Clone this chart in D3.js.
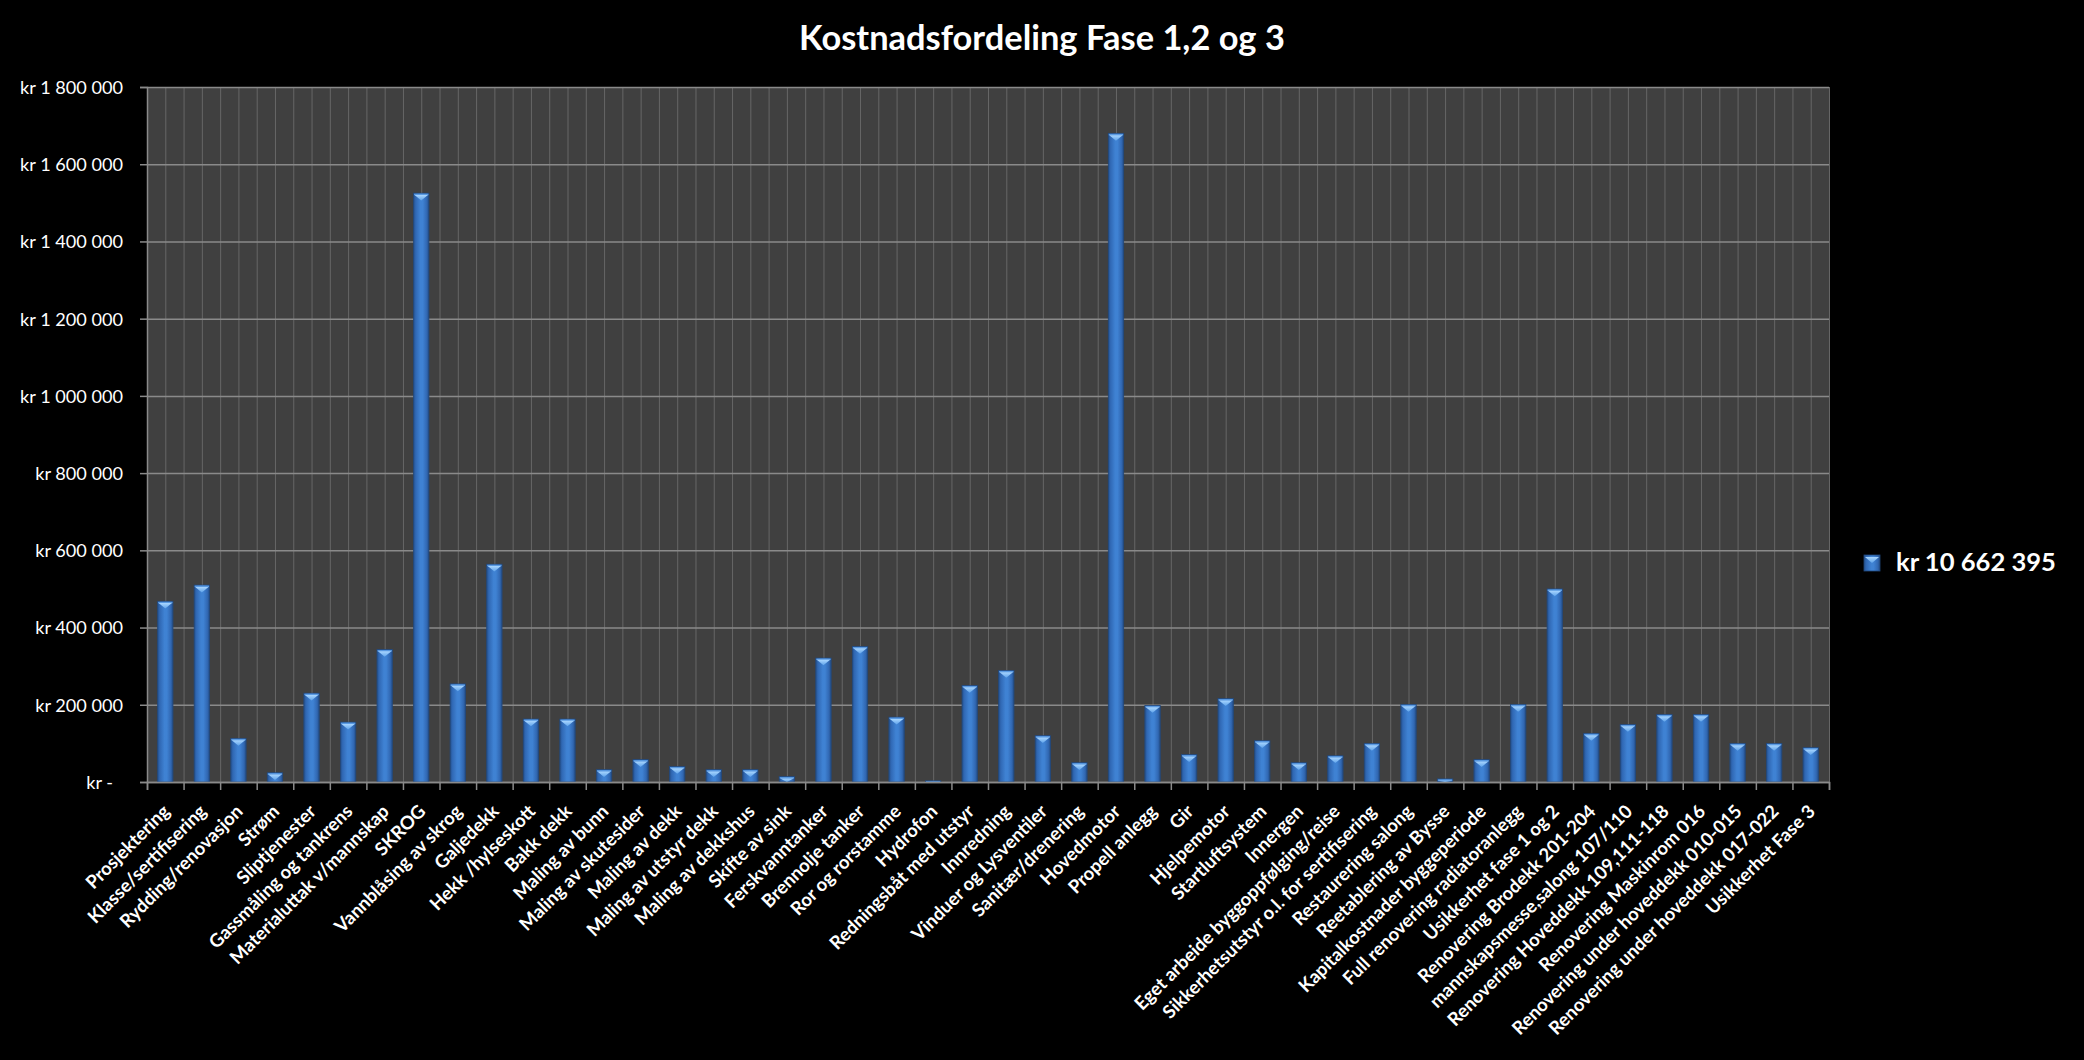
<!DOCTYPE html>
<html><head><meta charset="utf-8">
<script src="https://cdn.jsdelivr.net/npm/d3@7"></script>
<style>html,body{margin:0;padding:0;background:#000;} svg{display:block}</style>
</head><body>
<svg id="c" width="2084" height="1060"></svg>
<script>
const chartTitle = "Kostnadsfordeling Fase 1,2 og 3";
const categories = [
  "Prosjektering","Klasse/sertifisering","Rydding/renovasjon","Strøm","Sliptjenester",
  "Gassmåling og tankrens","Materialuttak v/mannskap","SKROG","Vannblåsing av skrog","Galjedekk",
  "Hekk /hylseskott","Bakk dekk","Maling av bunn","Maling av skutesider","Maling av dekk",
  "Maling av utstyr dekk","Maling av dekkshus","Skifte av sink","Ferskvanntanker","Brennolje tanker",
  "Ror og rorstamme","Hydrofon","Redningsbåt med utstyr","Innredning","Vinduer og Lysventiler",
  "Sanitær/drenering","Hovedmotor","Propell anlegg","Gir","Hjelpemotor",
  "Startluftsystem","Innergen","Eget arbeide byggoppfølging/reise","Sikkerhetsutstyr o.l. for sertifisering","Restaurering salong",
  "Reetablering av Bysse","Kapitalkostnader byggeperiode","Full renovering radiatoranlegg","Usikkerhet fase 1 og 2","Renovering Brodekk 201-204",
  "mannskapsmesse,salong 107/110","Renovering Hoveddekk 109,111-118","Renovering Maskinrom 016","Renovering under hoveddekk 010-015","Renovering under hoveddekk 017-022",
  "Usikkerhet Fase 3"
];
const values = [
  468000, 510000, 113000, 24000, 230000,
  155000, 343000, 1525000, 254000, 564000,
  163000, 163000, 32000, 58000, 40000,
  32000, 32000, 14000, 321000, 351000,
  168000, 3000, 250000, 289000, 120000,
  50000, 1680000, 198000, 71000, 216000,
  107000, 50000, 68000, 100000, 201000,
  8000, 58000, 201000, 500000, 126000,
  149000, 175000, 175000, 100000, 100000,
  89000
];
const yTicks = [0, 200000, 400000, 600000, 800000, 1000000, 1200000, 1400000, 1600000, 1800000];
const legendLabel = "kr 10 662 395";

const svg = d3.select("#c");
const W = 2084, H = 1060;
svg.append("rect").attr("width", W).attr("height", H).attr("fill", "#000");

const plot = {left: 147, right: 1829, top: 87, bottom: 782};
const FONT = "Lato, 'Open Sans', sans-serif";

const x = d3.scaleBand().domain(categories).range([plot.left, plot.right]).padding(0);
const xi = d3.scaleLinear().domain([0, categories.length]).range([plot.left, plot.right]);
const y = d3.scaleLinear().domain([0, 1800000]).range([plot.bottom, plot.top]);

// defs
const defs = svg.append("defs");
const g1 = defs.append("linearGradient").attr("id", "barGrad").attr("x1", "0").attr("x2", "1").attr("y1", "0").attr("y2", "0");
[["0%", "#24508c"], ["14%", "#3068b4"], ["45%", "#3f82d3"], ["60%", "#3f82d3"], ["86%", "#3168b3"], ["100%", "#234d86"]]
  .forEach(([o, c]) => g1.append("stop").attr("offset", o).attr("stop-color", c));
const g2 = defs.append("linearGradient").attr("id", "capGrad").attr("x1", "0").attr("x2", "0").attr("y1", "0").attr("y2", "1");
[["0%", "#a9d6ff"], ["100%", "#5fa3ea"]].forEach(([o, c]) => g2.append("stop").attr("offset", o).attr("stop-color", c));

// plot background
svg.append("rect").attr("x", plot.left).attr("y", plot.top)
  .attr("width", plot.right - plot.left).attr("height", plot.bottom - plot.top)
  .attr("fill", "#404040");

// vertical gridlines (every half category)
const halfTicks = d3.range(0, categories.length * 2 + 1).map(d => d / 2);
svg.append("g").attr("transform", `translate(0,${plot.top})`)
  .call(d3.axisTop(xi).tickValues(halfTicks).tickSize(-(plot.bottom - plot.top)).tickFormat(""))
  .call(g => g.select(".domain").remove())
  .call(g => g.selectAll("line").attr("stroke", "#666").attr("stroke-width", 1));

// horizontal gridlines
svg.append("g").attr("transform", `translate(${plot.left},0)`)
  .call(d3.axisLeft(y).tickValues(yTicks).tickSize(-(plot.right - plot.left)).tickFormat(""))
  .call(g => g.select(".domain").remove())
  .call(g => g.selectAll("line").attr("stroke", "#8a8a8a").attr("stroke-width", 1.5));

// bars
const bw = x.bandwidth() * 0.42;
const bars = svg.append("g").selectAll("g").data(categories.map((c, i) => ({c, v: values[i]}))).join("g");
bars.append("rect")
  .attr("x", d => x(d.c) + (x.bandwidth() - bw) / 2)
  .attr("y", d => y(d.v))
  .attr("width", bw)
  .attr("height", d => plot.bottom - y(d.v))
  .attr("fill", "url(#barGrad)")
  .attr("stroke", "#22497e").attr("stroke-width", 0.8);
bars.append("rect")
  .attr("x", d => x(d.c) + (x.bandwidth() - bw) / 2 + 0.5)
  .attr("y", d => y(d.v) + 0.5)
  .attr("width", bw - 1)
  .attr("height", d => Math.min(1.5, plot.bottom - y(d.v)))
  .attr("fill", "#5b9be3");
bars.append("path")
  .attr("d", d => {
    const x0 = x(d.c) + (x.bandwidth() - bw) / 2 + 1;
    const x1 = x0 + bw - 2;
    const t = y(d.v) + 1.8;
    const h = Math.min(5.5, Math.max(0, plot.bottom - t));
    return `M${x0},${t}L${x1},${t}L${(x0 + x1) / 2},${t + h}Z`;
  })
  .attr("fill", "url(#capGrad)");

// y axis
const fmt = d => d === 0 ? "kr -" : "kr " + d3.format(",")(d).replace(/,/g, " ");
const yAxis = svg.append("g").attr("transform", `translate(${plot.left},0)`)
  .call(d3.axisLeft(y).tickValues(yTicks).tickSize(7).tickPadding(0).tickFormat(fmt));
yAxis.select(".domain").attr("stroke", "#8a8a8a").attr("stroke-width", 1.5);
yAxis.selectAll(".tick line").attr("stroke", "#8a8a8a").attr("stroke-width", 1.5);
yAxis.selectAll(".tick text")
  .attr("fill", "#fff").attr("font-family", FONT).attr("font-size", 20)
  .attr("x", d => d === 0 ? -34 : -24).attr("dy", "0.35em");
// fit y label size to reference width
{
  const t = yAxis.selectAll(".tick text").filter(d => d === 1800000);
  const w = t.node().getComputedTextLength();
  const fs = 20 * 103 / w;
  yAxis.selectAll(".tick text").attr("font-size", fs);
}

// x axis (ticks at category boundaries)
const xAxis = svg.append("g").attr("transform", `translate(0,${plot.bottom})`)
  .call(d3.axisBottom(xi).tickValues(d3.range(0, categories.length + 1)).tickSize(8).tickFormat(""));
xAxis.select(".domain").attr("stroke", "#8a8a8a").attr("stroke-width", 1.5);
xAxis.selectAll(".tick line").attr("stroke", "#8a8a8a").attr("stroke-width", 1.5);

// x labels
const xl = svg.append("g").selectAll("text").data(categories).join("text")
  .attr("transform", d => `translate(${x(d) + x.bandwidth() / 2 + 1},${plot.bottom + 26}) rotate(-45)`)
  .attr("text-anchor", "end").attr("dy", "0.35em")
  .attr("fill", "#fff").attr("font-family", FONT).attr("font-weight", "bold").attr("font-size", 20)
  .text(d => d);
{
  const t = xl.filter(d => d === "Renovering under hoveddekk 017-022");
  const w = t.node().getComputedTextLength();
  xl.attr("font-size", 20 * 316 / w);
}

// title
const tt = svg.append("text").attr("x", 1042).attr("y", 50).attr("text-anchor", "middle")
  .attr("fill", "#fff").attr("font-family", FONT).attr("font-weight", "bold").attr("font-size", 32)
  .text(chartTitle);
tt.attr("font-size", 32 * 486 / tt.node().getComputedTextLength());

// legend
const lg = svg.append("g");
lg.append("rect").attr("x", 1864).attr("y", 555).attr("width", 16).attr("height", 16)
  .attr("fill", "url(#barGrad)").attr("stroke", "#22497e").attr("stroke-width", 0.8);
lg.append("path").attr("d", "M1865,557L1879,557L1872,563Z").attr("fill", "url(#capGrad)");
const lt = lg.append("text").attr("x", 1896).attr("y", 571)
  .attr("fill", "#fff").attr("font-family", FONT).attr("font-weight", "bold").attr("font-size", 28)
  .text(legendLabel);
lt.attr("font-size", 28 * 160 / lt.node().getComputedTextLength());
</script>
</body></html>
